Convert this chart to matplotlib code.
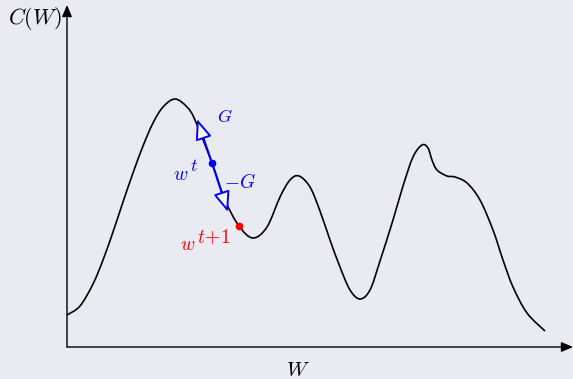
import matplotlib.pyplot as plt
from matplotlib.path import Path
from matplotlib.patches import PathPatch
import numpy as np

plt.rcParams['mathtext.fontset'] = 'cm'

# cost curve C(W) (x right, y up from origin)
curve_x = [0, 13, 26, 36, 46, 56, 66, 76, 86, 96, 108, 120, 128, 145, 158, 172,
           186, 200, 213, 223, 232, 243, 253, 263, 273, 283, 293, 303, 313, 326,
           336, 346, 355, 361, 365, 370, 380, 388, 400, 413, 426, 436, 446, 460,
           478]
curve_y = [32, 41, 63, 87, 115, 145, 174, 201, 224, 240, 248, 240, 227, 184,
           147, 121, 109, 120, 150, 167, 171, 160, 136, 107, 80, 57, 48, 57, 86,
           127, 161, 190, 202, 199, 187, 177, 171, 170, 164, 147, 117, 87, 60,
           34, 16]

w_t = (145, 184)
w_t1 = (172, 121)
g_tip = (130, 228)
neg_g_tip = (161, 135)


def smooth_path(xs, ys, tension=1 / 6):
    pts = np.column_stack([xs, ys]).astype(float)
    verts = [pts[0]]
    codes = [Path.MOVETO]
    for i in range(len(pts) - 1):
        p0 = pts[max(i - 1, 0)]
        p1 = pts[i]
        p2 = pts[i + 1]
        p3 = pts[min(i + 2, len(pts) - 1)]
        c1 = p1 + (p2 - p0) * tension
        c2 = p2 - (p3 - p1) * tension
        verts += [c1, c2, p2]
        codes += [Path.CURVE4] * 3
    return Path(verts, codes)


fig = plt.figure(figsize=(5.73, 3.79), dpi=100, facecolor='#eaeaf2')
ax = fig.add_axes([0, 0, 1, 1])
ax.set_facecolor('#eaeaf2')
ax.set_xlim(-67, 506)
ax.set_ylim(-32, 347)
ax.axis('off')

# axes with arrows
ax.annotate('', xy=(506, 0), xytext=(0, 0),
            arrowprops=dict(arrowstyle='-|>,head_length=0.7,head_width=0.3',
                            color='black', lw=1.0, shrinkA=0, shrinkB=0))
ax.annotate('', xy=(0, 342), xytext=(0, 0),
            arrowprops=dict(arrowstyle='-|>,head_length=0.7,head_width=0.3',
                            color='black', lw=1.0, shrinkA=0, shrinkB=0))

ax.add_patch(PathPatch(smooth_path(curve_x, curve_y), fill=False,
                       edgecolor='black', lw=1.2))

# gradient arrows
for tip in (g_tip, neg_g_tip):
    ax.annotate('', xy=tip, xytext=w_t,
                arrowprops=dict(arrowstyle='-|>,head_length=1.25,head_width=0.5',
                                facecolor='white', edgecolor='blue', lw=1.4,
                                shrinkA=0, shrinkB=0))

ax.plot(*w_t, 'o', color='blue', ms=4.5)
ax.plot(*w_t1, 'o', color='red', ms=4.5)

ax.text(150, 230, '$G$', color='blue', fontsize=13, ha='left', va='center')
ax.text(114, 172, '$w$', color='blue', fontsize=14, ha='center', va='center')
ax.text(127, 181, '$t$', color='blue', fontsize=13, ha='center', va='center')
ax.text(157, 164, '$-G$', color='blue', fontsize=14, ha='left', va='center')
ax.text(121, 102, '$w$', color='red', fontsize=14, ha='center', va='center')
ax.text(147, 110, '$t\\!+\\!1$', color='red', fontsize=14, ha='center', va='center')
ax.text(-32, 329, '$C(W)$', color='black', fontsize=16, ha='center', va='center')
ax.text(231, -23, '$W$', color='black', fontsize=15, ha='center', va='center')

fig.savefig('out.png', dpi=100, facecolor=fig.get_facecolor())
